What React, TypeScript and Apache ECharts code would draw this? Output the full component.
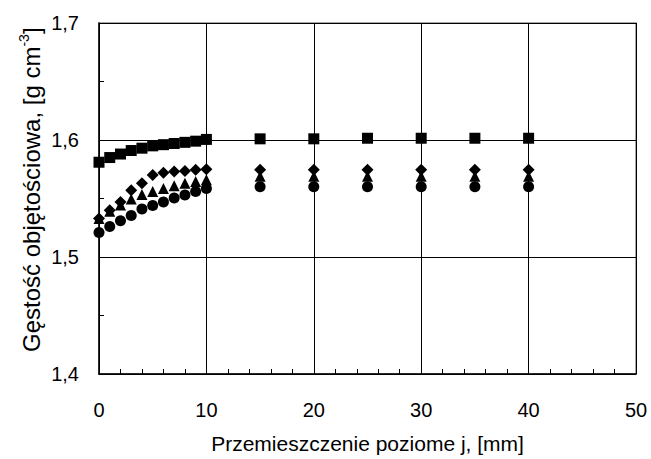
import React, { useEffect, useRef } from "react";
import * as echarts from "echarts";

const xValues = [0, 1, 2, 3, 4, 5, 6, 7, 8, 9, 10, 15, 20, 25, 30, 35, 40];
const squares = [1.581, 1.585, 1.588, 1.591, 1.593, 1.595, 1.596, 1.597, 1.598, 1.599, 1.6005, 1.601, 1.601, 1.6015, 1.6015, 1.6015, 1.6015];
const diamonds = [1.533, 1.54, 1.547, 1.557, 1.563, 1.57, 1.572, 1.573, 1.5735, 1.5745, 1.575, 1.5745, 1.5745, 1.5745, 1.5745, 1.5745, 1.5745];
const triangles = [1.533, 1.539, 1.5445, 1.5495, 1.5535, 1.556, 1.5585, 1.561, 1.563, 1.5645, 1.566, 1.569, 1.569, 1.569, 1.569, 1.569, 1.569];
const circles = [1.521, 1.526, 1.531, 1.5355, 1.541, 1.544, 1.547, 1.5505, 1.553, 1.556, 1.5585, 1.560, 1.560, 1.560, 1.560, 1.560, 1.560];
const yTicks = [1.4, 1.5, 1.6, 1.7];
const xTicks = [0, 10, 20, 30, 40, 50];
const xTitle = "Przemieszczenie poziome j, [mm]";
const yTitleMain = "Gęstość objętościowa, [g cm";
const yTitleSup = "-3";
const yTitleEnd = "]";

const font = "'Liberation Sans', Arial, sans-serif";
const fs = 20;

function pairs(ys: number[]) {
  return xValues.map((x, i) => [x, ys[i]]);
}

export default function App() {
  const ref = useRef<HTMLDivElement>(null);
  useEffect(() => {
    if (!ref.current) return;
    const chart = echarts.init(ref.current, null, { renderer: "svg" });
    const mk = (name: string, data: number[], symbol: string, size: number) => ({
      name,
      type: "scatter",
      data: pairs(data),
      symbol,
      symbolSize: size,
      itemStyle: { color: "#000", opacity: 1 },
      z: 5,
    });
    chart.setOption({
      animation: false,
      backgroundColor: "#fff",
      textStyle: { fontFamily: font },
      grid: {
        left: 99,
        top: 23,
        right: 15,
        bottom: 85,
        show: true,
        borderColor: "#8a8a8a",
        borderWidth: 1.5,
        containLabel: false,
      },
      graphic: [
        {
          type: "text",
          x: 31,
          y: 352,
          rotation: Math.PI / 2,
          style: {
            text: `{a|${yTitleMain}}{sup|${yTitleSup}}{a|${yTitleEnd}}`,
            align: "left",
            verticalAlign: "middle",
            fontSize: 24,
            fontFamily: font,
            rich: {
              a: { fontSize: 24, fill: "#000", fontFamily: font, lineHeight: 28 },
              sup: { fontSize: 14, fill: "#000", fontFamily: font, verticalAlign: "top", lineHeight: 28, padding: [0, 0, 12, 0] },
            },
          },
        },
      ],
      xAxis: {
        type: "value",
        min: xTicks[0],
        max: xTicks[xTicks.length - 1],
        interval: 10,
        name: xTitle,
        nameLocation: "middle",
        nameGap: 59,
        nameTextStyle: { fontSize: 21, color: "#000", fontFamily: font },
        axisLine: { show: true, onZero: false, lineStyle: { color: "#000", width: 1.5 } },
        axisTick: { show: true, inside: true, length: 5, lineStyle: { color: "#000" } },
        minorTick: { show: true, splitNumber: 5, length: 5, lineStyle: { color: "#000" } },
        splitLine: { show: true, lineStyle: { color: "#000", width: 1 } },
        axisLabel: { fontSize: fs, color: "#000", margin: 26, fontFamily: font },
      },
      yAxis: {
        type: "value",
        min: yTicks[0],
        max: yTicks[yTicks.length - 1],
        interval: 0.1,
        axisLine: { show: true, onZero: false, lineStyle: { color: "#000", width: 1.5 } },
        axisTick: { show: true, inside: true, length: 5, lineStyle: { color: "#000" } },
        minorTick: { show: true, splitNumber: 2, length: 5, lineStyle: { color: "#000" } },
        splitLine: { show: true, lineStyle: { color: "#000", width: 1 } },
        axisLabel: {
          fontSize: fs,
          color: "#000",
          margin: 20,
          fontFamily: font,
          formatter: (v: number) => v.toFixed(1).replace(".", ","),
        },
      },
      series: [
        mk("squares", squares, "rect", 11),
        mk("diamonds", diamonds, "diamond", 12),
        mk("triangles", triangles, "triangle", 11),
        mk("circles", circles, "circle", 11),
      ],
    });
    return () => chart.dispose();
  }, []);
  return <div ref={ref} style={{ width: 651, height: 459, position: "absolute", left: 0, top: 0 }} />;
}
